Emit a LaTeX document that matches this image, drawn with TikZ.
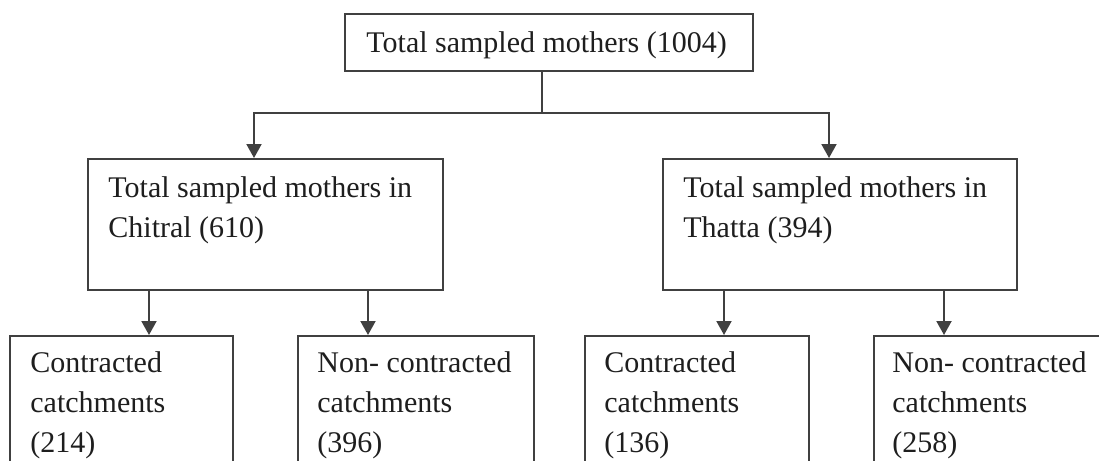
\documentclass[tikz,border=0pt]{standalone}
\usepackage{fontspec}
\setmainfont{Liberation Serif}
\usetikzlibrary{arrows.meta}
\definecolor{linec}{HTML}{404040}
\definecolor{textc}{HTML}{1E1E1E}
\begin{document}
\begin{tikzpicture}[x=0.5pt,y=-0.5pt,
  box/.style={draw=linec,line width=1pt,rectangle,inner sep=0pt,anchor=north west},
  txt/.style={anchor=base west,inner sep=0pt,align=left,text=textc,font=\fontsize{15}{20}\selectfont},
  conn/.style={draw=linec,line width=1pt},
  arr/.style={draw=linec,line width=1pt,-{Triangle[length=7pt,width=7.5pt]}}]
\clip (0,0) rectangle (1099,461);
\fill[white] (0,0) rectangle (1099,461);
% boxes
\node[box,minimum width=204pt,minimum height=28.5pt] (top) at (344,13) {};
\node[box,minimum width=177.5pt,minimum height=65.5pt] (chitral) at (87,158) {};
\node[box,minimum width=177pt,minimum height=65.5pt] (thatta) at (662,158) {};
\node[box,minimum width=111.5pt,minimum height=75pt] (b1) at (9,335) {};
\node[box,minimum width=118pt,minimum height=75pt] (b2) at (297,335) {};
\node[box,minimum width=112pt,minimum height=75pt] (b3) at (584,335) {};
\node[box,minimum width=121pt,minimum height=75pt] (b4) at (873,335) {};
% texts (base anchor = baseline of the last line)
\node[txt] (ttop) at ([shift={(22,39)}]top.north west) {Total sampled mothers (1004)};
\node[txt] (tchitral) at ([shift={(21,79)}]chitral.north west) {Total sampled mothers in\\Chitral (610)};
\node[txt] (tthatta) at ([shift={(21,79)}]thatta.north west) {Total sampled mothers in\\Thatta (394)};
\node[txt] (tb1) at ([shift={(21,117)}]b1.north west) {Contracted\\catchments\\(214)};
\node[txt] (tb2) at ([shift={(20,117)}]b2.north west) {Non- contracted\\catchments\\(396)};
\node[txt] (tb3) at ([shift={(20,117)}]b3.north west) {Contracted\\catchments\\(136)};
\node[txt] (tb4) at ([shift={(19,117)}]b4.north west) {Non- contracted\\catchments\\(258)};
% connectors
\coordinate (j) at (542,113);
\draw[conn] (top.south -| j) -- (j);
\draw[arr] (j) -| ([shift={(-11.5,0)}]chitral.north);
\draw[arr] (j) -| ([shift={(-11,0)}]thatta.north);
\coordinate (x1) at (149,0);
\coordinate (x2) at (368,0);
\coordinate (x3) at (724,0);
\coordinate (x4) at (944,0);
\draw[arr] (chitral.south -| x1) -- (b1.north -| x1);
\draw[arr] (chitral.south -| x2) -- (b2.north -| x2);
\draw[arr] (thatta.south -| x3) -- (b3.north -| x3);
\draw[arr] (thatta.south -| x4) -- (b4.north -| x4);
\end{tikzpicture}
\end{document}
